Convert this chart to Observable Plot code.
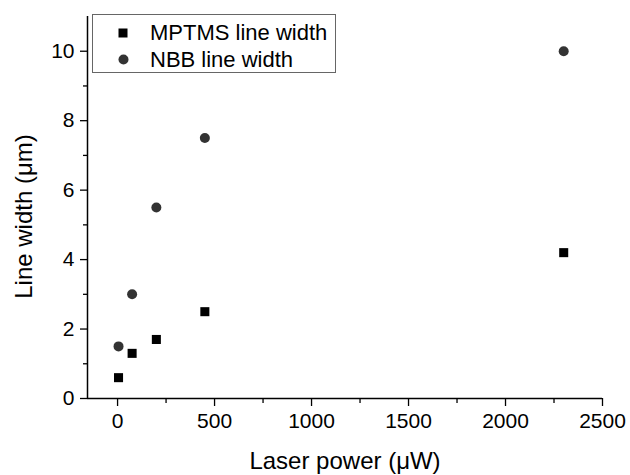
<!DOCTYPE html>
<html>
<head>
<meta charset="utf-8">
<script src="https://cdn.jsdelivr.net/npm/d3@7"></script>
<script src="https://cdn.jsdelivr.net/npm/@observablehq/plot@0.6"></script>
<style>
  html, body { margin: 0; padding: 0; background: #fff; }
  #wrap { position: relative; width: 630px; height: 475px; font-family: "Liberation Sans", Arial, sans-serif; }
  #legend { position: absolute; left: 92px; top: 14px; width: 244px; height: 59px; border: 1px solid #666; background: #fff; box-sizing: border-box; }
  .row { position: absolute; left: 0; height: 24px; display: flex; align-items: center; font-size: 22px; color: #000; }
  .sym { position: absolute; left: 25px; }
  .lab { position: absolute; left: 57px; white-space: nowrap; }
</style>
</head>
<body>
<div id="wrap"></div>
<script>
const powerMPTMS = [5, 75, 200, 450, 2300];
const widthMPTMS = [0.6, 1.3, 1.7, 2.5, 4.2];
const powerNBB = [5, 75, 200, 450, 2300];
const widthNBB = [1.5, 3.0, 5.5, 7.5, 10.0];
const xMajorTicks = [0, 500, 1000, 1500, 2000, 2500];
const xMinorTicks = [250, 750, 1250, 1750, 2250];
const yMajorTicks = [0, 2, 4, 6, 8, 10];
const yMinorTicks = [1, 3, 5, 7, 9];
const xDomain = [-155, 2500];
const yDomain = [0, 11];
const xTitle = "Laser power (μW)";
const yTitle = "Line width (μm)";

const mptms = powerMPTMS.map((p, i) => ({p, w: widthMPTMS[i]}));
const nbb = powerNBB.map((p, i) => ({p, w: widthNBB[i]}));

const font = "Liberation Sans, Arial, sans-serif";
const fmt = d => String(d);

const chart = Plot.plot({
  width: 630,
  height: 475,
  marginLeft: 87,
  marginRight: 28,
  marginTop: 16,
  marginBottom: 77,
  style: {fontFamily: font, background: "#fff", color: "#000"},
  x: {domain: xDomain},
  y: {domain: yDomain},
  marks: [
    Plot.axisX({ticks: xMinorTicks, tickSize: 5, text: null, label: null, stroke: "#000", strokeWidth: 1.3}),
    Plot.axisX({ticks: xMajorTicks, tickSize: 8, tickPadding: 7, fontSize: 21, tickFormat: fmt, stroke: "#000", strokeWidth: 1.3, label: null}),
    Plot.axisY({ticks: yMinorTicks, tickSize: 4, text: null, label: null, stroke: "#000", strokeWidth: 1.3}),
    Plot.axisY({ticks: yMajorTicks, tickSize: 7, tickPadding: 6, fontSize: 21, tickFormat: fmt, stroke: "#000", strokeWidth: 1.3, label: null}),
    Plot.text([xTitle], {frameAnchor: "bottom", dy: 63, fontSize: 24, fill: "#000", lineAnchor: "middle", textAnchor: "middle"}),
    Plot.text([yTitle], {frameAnchor: "left", dx: -63, dy: 9, rotate: -90, fontSize: 24, fill: "#000", lineAnchor: "middle", textAnchor: "middle"}),
    Plot.ruleY([yDomain[0]], {stroke: "#000", strokeWidth: 1.5}),
    Plot.ruleX([xDomain[0]], {stroke: "#000", strokeWidth: 1.5}),
    Plot.dot(mptms, {x: "p", y: "w", symbol: "square", r: 5.1, fill: "#000", stroke: "none"}),
    Plot.dot(nbb, {x: "p", y: "w", symbol: "circle", r: 5, fill: "#333", stroke: "none"})
  ]
});
document.getElementById("wrap").appendChild(chart);

const legendItems = [
  {label: "MPTMS line width", sym: "square"},
  {label: "NBB line width", sym: "circle"}
];
const leg = document.createElement("div");
leg.id = "legend";
legendItems.forEach((d, i) => {
  const row = document.createElement("div");
  row.className = "row";
  row.style.top = (6 + i * 27) + "px";
  const svgSym = d.sym === "square"
    ? '<svg width="10" height="10"><rect x="0.5" y="0.5" width="9" height="9" fill="#000"/></svg>'
    : '<svg width="11" height="11"><circle cx="5.5" cy="5.5" r="5" fill="#333"/></svg>';
  row.innerHTML = '<span class="sym" style="top:' + (d.sym === "square" ? 7 : 6) + 'px;line-height:0">' + svgSym + '</span><span class="lab">' + d.label + '</span>';
  leg.appendChild(row);
});
document.getElementById("wrap").appendChild(leg);
</script>
</body>
</html>
